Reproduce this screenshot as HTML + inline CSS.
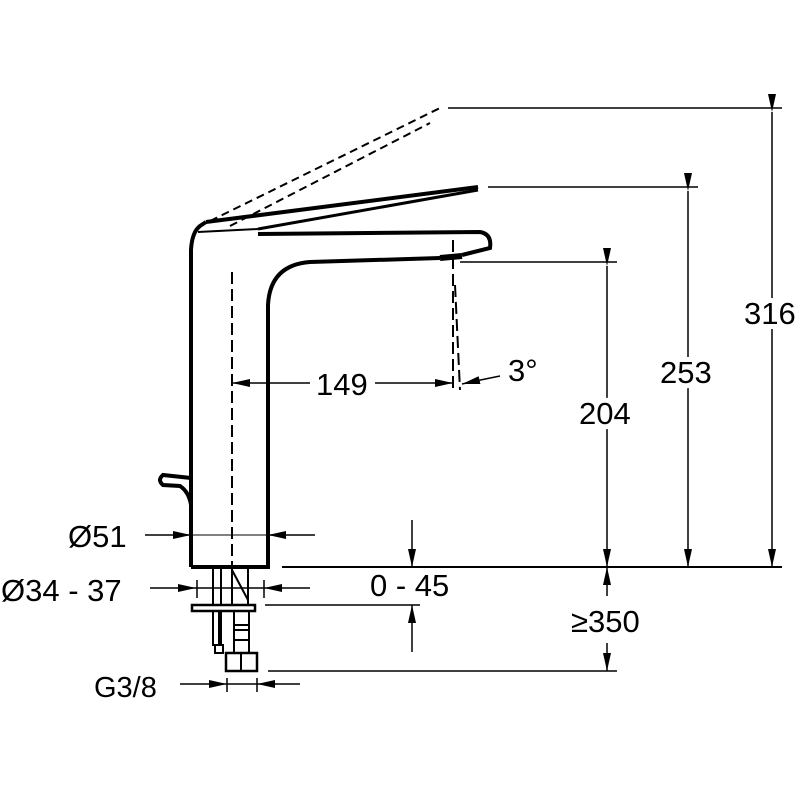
<!DOCTYPE html>
<html><head><style>body{margin:0;background:#fff}</style></head><body>
<svg width="800" height="800" viewBox="0 0 800 800" xmlns="http://www.w3.org/2000/svg" font-family="Liberation Sans, sans-serif" font-size="31" fill="none" stroke="#000">
<defs>
<marker id="b" markerWidth="18" markerHeight="8" refX="18" refY="4" orient="auto" markerUnits="userSpaceOnUse"><path d="M0,0L18,4L0,8z" fill="#000" stroke="none"/></marker></defs>
<!-- body -->
<path d="M191,567 L191,250 Q192,232 200,226 L206,222" stroke-width="4"/>
<path d="M191,567 L268,567 L268,305 Q270,265 310,262 L440,258" stroke-width="4"/>
<path d="M198,232 L258,229" stroke-width="2"/>
<path d="M206,222 L478,187" stroke-width="4"/>
<path d="M258,229 L478,190" stroke-width="3"/>
<path d="M258,234 L480,232 Q492,234 490,248 L462,255" stroke-width="4"/>
<path d="M440,258 L462,256" stroke-width="6"/>
<path d="M210,221 L440,108" stroke-width="2" stroke-dasharray="8,5"/>
<path d="M230,226 L430,123" stroke-width="2" stroke-dasharray="8,5"/>
<!-- handle -->
<path d="M191,478 L163,475 Q157,480 163,485 L180,486 Q189,492 191,505" stroke-width="4"/>
<!-- centerlines -->
<path d="M232,272 L232,575" stroke-width="2" stroke-dasharray="12,5"/>
<path d="M453,240 L453,392" stroke-width="2" stroke-dasharray="12,5"/>
<path d="M455,285 L460,390" stroke-width="2" stroke-dasharray="12,5"/>
<!-- base line & extension lines -->
<path d="M282,567 L782,567" stroke-width="2"/>
<path d="M448,108 L782,108 M488,187 L698,187 M460,262 L617,262 M265,605 L420,605 M268,671 L617,671" stroke-width="1.5"/>
<!-- vertical dims -->
<path d="M772,112 L772,567" stroke-width="1.5" marker-start="url(#b)" marker-end="url(#b)"/>
<path d="M688,191 L688,567" stroke-width="1.5" marker-start="url(#b)" marker-end="url(#b)"/>
<path d="M607,266 L607,567" stroke-width="1.5" marker-start="url(#b)" marker-end="url(#b)"/>
<path d="M607,596 L607,567" stroke-width="1.5" marker-end="url(#b)"/>
<path d="M607,643 L607,671" stroke-width="1.5" marker-end="url(#b)"/>
<path d="M412,520 L412,567" stroke-width="1.5" marker-end="url(#b)"/>
<path d="M412,652 L412,605" stroke-width="1.5" marker-end="url(#b)"/>
<!-- 149 -->
<path d="M310,383 L232,383" stroke-width="1.5" marker-end="url(#b)"/>
<path d="M375,383 L453,383" stroke-width="1.5" marker-end="url(#b)"/>
<path d="M500,376 Q480,380 462,384" stroke-width="1.5" marker-end="url(#b)"/>
<!-- Ø51 -->
<path d="M145,535 L191,535" stroke-width="1.5" marker-end="url(#b)"/>
<path d="M315,535 L268,535" stroke-width="1.5" marker-end="url(#b)"/>
<path d="M191,535 L268,535" stroke-width="1"/>
<!-- Ø34-37 -->
<path d="M150,588 L196,588" stroke-width="1.5" marker-end="url(#b)"/>
<path d="M310,588 L264,588" stroke-width="1.5" marker-end="url(#b)"/>
<path d="M196,588 L264,588 M197,580 L197,598 M264,580 L264,598" stroke-width="1.5"/>
<!-- G3/8 -->
<path d="M180,684 L227,684" stroke-width="1.5" marker-end="url(#b)"/>
<path d="M300,684 L257,684" stroke-width="1.5" marker-end="url(#b)"/>
<path d="M227,684 L257,684 M227,678 L227,692 M257,678 L257,692" stroke-width="1.5"/>
<!-- pipes -->
<path d="M213,567 L213,605 M221,567 L221,605 M232,567 L232,605 M248,567 L248,605" stroke-width="2"/>
<path d="M232,570 L248,600" stroke-width="2"/>
<rect x="192" y="605" width="63" height="6" stroke-width="2.5"/>
<path d="M213,611 L213,645 L219,645 L219,611 M221,611 L221,645 L215,645" stroke-width="2"/>
<rect x="215" y="645" width="8" height="8" stroke-width="2"/>
<path d="M234,611 L234,653 M249,611 L249,653 M234,625 L249,625 M234,630 L249,630 M234,640 L249,640" stroke-width="2"/>
<rect x="226" y="653" width="31" height="18" stroke-width="2.5"/>
<path d="M241,653 L241,671" stroke-width="2"/>
<!-- text -->
<g fill="#000" stroke="#fff" stroke-width="10" paint-order="stroke" stroke-linejoin="round">
<text x="316" y="395">149</text>
<text x="508" y="381">3°</text>
<text x="579" y="424">204</text>
<text x="660" y="383">253</text>
<text x="744" y="324">316</text>
<text x="68" y="547">Ø51</text>
<text x="1" y="601">Ø34 - 37</text>
<text x="370" y="596">0 - 45</text>
<text x="571" y="632">≥350</text>
<text x="94" y="697" font-size="29">G3/8</text>
</g>
</svg>
</body></html>
